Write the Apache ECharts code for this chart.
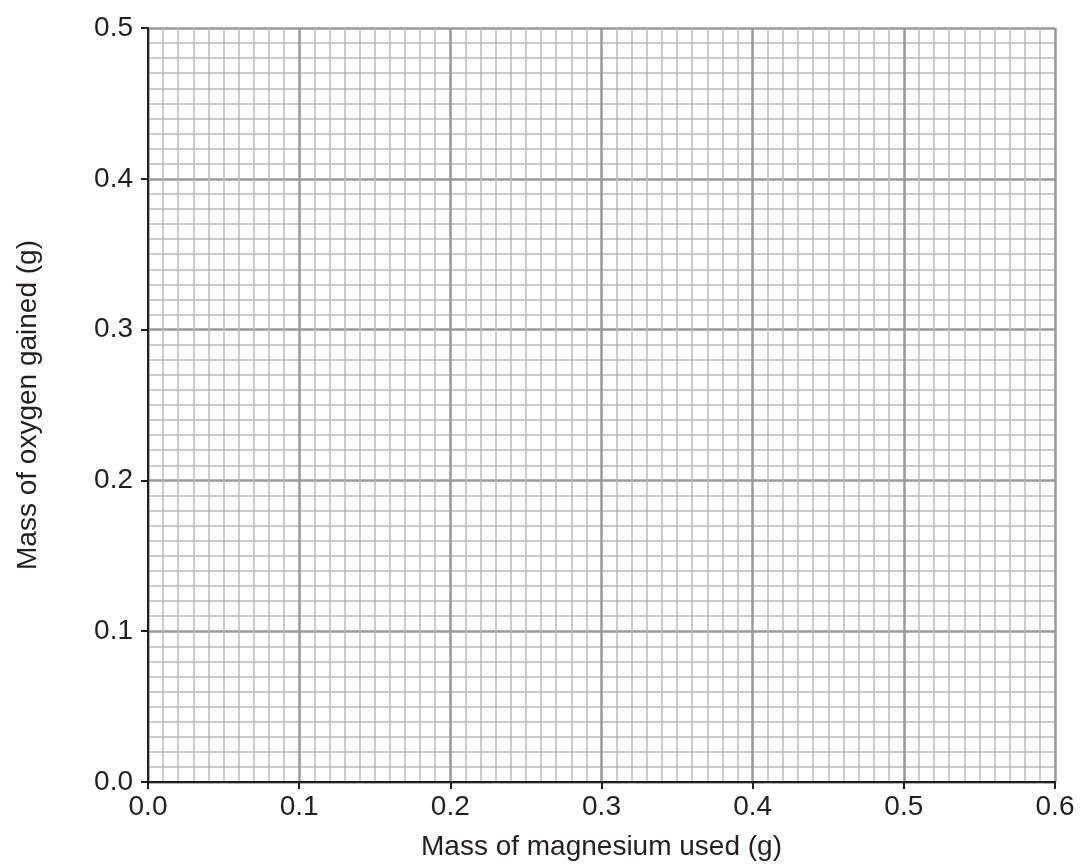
<!DOCTYPE html>
<html>
<head>
<meta charset="utf-8">
<script src="https://cdn.jsdelivr.net/npm/echarts@6/dist/echarts.min.js"></script>
<style>
html, body { margin: 0; padding: 0; background: #fff; }
#main { width: 1080px; height: 866px; }
</style>
</head>
<body>
<div id="main"></div>
<script>
// axis ranges and tick steps (grams)
var xRange = [0, 0.6];
var yRange = [0, 0.5];
var majorStep = 0.1;
var minorPerMajor = 10;
var xTitle = 'Mass of magnesium used (g)';
var yTitle = 'Mass of oxygen gained (g)';
// blank graph paper: no measured points yet
var points = [];

var myChart = echarts.init(document.getElementById('main'));

var textColor = '#231f20';
var font = 'Liberation Sans, Arial, sans-serif';

function axisOf(range, title, gap, labelMargin) {
  return {
    type: 'value',
    min: range[0],
    max: range[1],
    interval: majorStep,
    name: title,
    nameLocation: 'middle',
    nameGap: gap,
    nameTextStyle: { color: textColor, fontSize: 28, fontFamily: font },
    axisLine: { show: true, onZero: false, lineStyle: { color: textColor, width: 2 } },
    axisTick: { show: true, length: 7, lineStyle: { color: textColor, width: 2 } },
    axisLabel: {
      color: textColor, fontSize: 28, fontFamily: font, margin: labelMargin,
      formatter: function (v) { return v.toFixed(1); }
    },
    splitLine: { show: true, lineStyle: { color: '#999', width: 2.5 } },
    minorTick: { show: false, splitNumber: minorPerMajor },
    minorSplitLine: { show: true, lineStyle: { color: '#bbb', width: 1.5 } }
  };
}

var option = {
  animation: false,
  grid: { left: 148, right: 25, top: 28, bottom: 82 },
  xAxis: axisOf(xRange, xTitle, 51, 11),
  yAxis: axisOf(yRange, yTitle, 106, 15),
  series: [
    { type: 'scatter', data: points }
  ]
};

myChart.setOption(option);
window.onresize = function () {
  myChart.resize();
};
</script>
</body>
</html>
